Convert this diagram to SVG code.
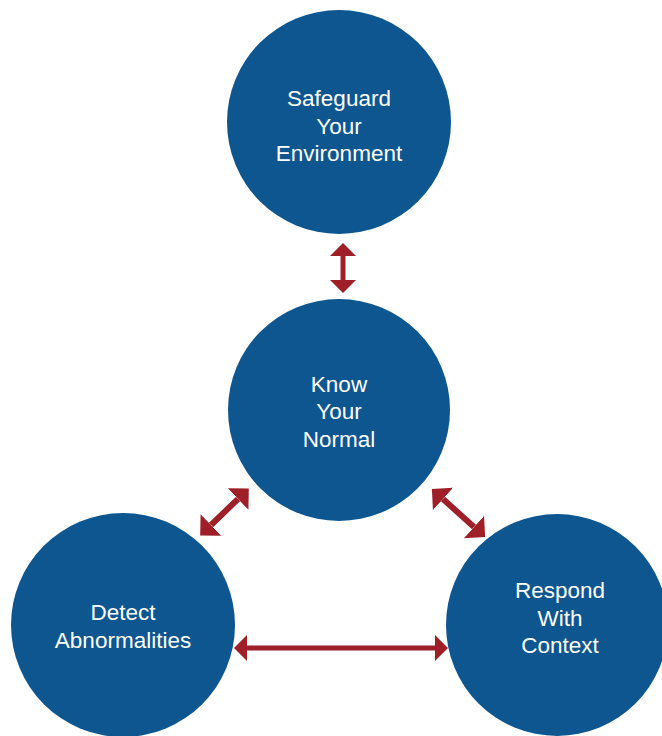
<svg xmlns="http://www.w3.org/2000/svg" width="662" height="736" viewBox="0 0 662 736">
<style>
.node{fill:#0d5690}
.lbl{fill:#ffffff;font-family:"Liberation Sans",Arial,sans-serif;font-size:22.5px;text-anchor:middle}
.conn{stroke:#9e1f27;stroke-width:5;fill:none;marker-start:url(#head);marker-end:url(#head)}
.diag{stroke-width:6;marker-start:url(#headL);marker-end:url(#headL)}
</style>
<defs>
<marker id="head" markerUnits="userSpaceOnUse" markerWidth="14" markerHeight="28" refX="0" refY="13" orient="auto-start-reverse" viewBox="0 0 14 28">
<path d="M0,0 L13,13 L0,26 z" fill="#9e1f27"/>
</marker>
<marker id="headL" markerUnits="userSpaceOnUse" markerWidth="18" markerHeight="32" refX="0" refY="15" orient="auto-start-reverse" viewBox="0 0 18 32">
<path d="M0,0 L15,15 L0,30 z" fill="#9e1f27"/>
</marker>
</defs>
<rect width="662" height="736" fill="#ffffff"/>
<g id="connectors">
<line class="conn" x1="343" y1="256" x2="343" y2="280"/>
<line class="conn diag" x1="211" y1="525" x2="238" y2="499"/>
<line class="conn diag" x1="443" y1="499" x2="474" y2="527"/>
<line class="conn" x1="247" y1="648" x2="435" y2="648"/>
</g>
<g id="safeguard">
<circle class="node" cx="339" cy="122" r="112"/>
<text class="lbl" x="339" y="106">Safeguard</text>
<text class="lbl" x="339" y="134">Your</text>
<text class="lbl" x="339" y="161">Environment</text>
</g>
<g id="know">
<circle class="node" cx="339" cy="410" r="111"/>
<text class="lbl" x="339" y="392">Know</text>
<text class="lbl" x="339" y="419">Your</text>
<text class="lbl" x="339" y="447">Normal</text>
</g>
<g id="detect">
<circle class="node" cx="123" cy="625" r="112"/>
<text class="lbl" x="123" y="620">Detect</text>
<text class="lbl" x="123" y="648">Abnormalities</text>
</g>
<g id="respond">
<circle class="node" cx="557" cy="625" r="111"/>
<text class="lbl" x="560" y="598">Respond</text>
<text class="lbl" x="560" y="626">With</text>
<text class="lbl" x="560" y="653">Context</text>
</g>
</svg>
